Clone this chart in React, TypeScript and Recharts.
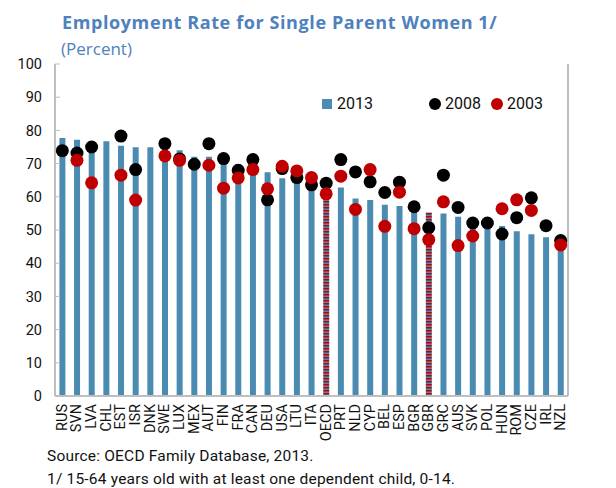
import { ComposedChart, Bar, Scatter, XAxis, YAxis, Cell, Legend } from 'recharts';

const countries = [
  'RUS', 'SVN', 'LVA', 'CHL', 'EST', 'ISR', 'DNK', 'SWE', 'LUX', 'MEX', 'AUT', 'FIN',
  'FRA', 'CAN', 'DEU', 'USA', 'LTU', 'ITA', 'OECD', 'PRT', 'NLD', 'CYP', 'BEL', 'ESP',
  'BGR', 'GBR', 'GRC', 'AUS', 'SVK', 'POL', 'HUN', 'ROM', 'CZE', 'IRL', 'NZL',
];
const rate2013 = [
  77.7, 77.2, 76.7, 76.7, 75.4, 74.9, 74.9, 74.4, 74.0, 72.1, 72.1, 71.0,
  69.8, 67.0, 67.4, 65.6, 65.0, 63.2, 61.2, 62.8, 59.5, 59.0, 57.6, 57.2,
  56.0, 55.3, 55.0, 54.0, 52.5, 51.5, 51.2, 49.6, 48.7, 47.8, 45.5,
];
const rate2008 = [
  73.9, 73.2, 75.0, null, 78.3, 68.2, null, 76.0, 71.4, 69.8, 76.0, 71.5,
  68.0, 71.2, 59.1, 68.5, 65.8, 63.6, 64.1, 71.2, 67.5, 64.5, 61.3, 64.4,
  57.0, 50.7, 66.5, 56.8, 52.1, 52.1, 48.8, 53.7, 59.7, 51.3, 46.8,
];
const rate2003 = [
  null, 71.0, 64.2, null, 66.5, 59.0, null, 72.3, 71.0, null, 69.5, 62.6,
  65.7, 68.2, 62.4, 69.2, 67.8, 65.8, 60.9, 66.2, 56.2, 68.2, 51.1, 61.4,
  50.4, 47.1, 58.5, 45.3, 48.2, null, 56.4, 59.1, 55.9, null, 45.5,
];
const highlighted = ['OECD', 'GBR'];
const yTicks = [0, 10, 20, 30, 40, 50, 60, 70, 80, 90, 100];

const data = countries.map((name, i) => ({
  name,
  y2013: rate2013[i],
  y2008: rate2008[i],
  y2003: rate2003[i],
}));

const BLUE = '#4b8bb1';
const RED = '#c00000';
const TITLE = '#4f81bd';
const FRAME = '#bfbfbf';
const FONT = 'Roboto, "Open Sans", sans-serif';
const TITLE_FONT = '"Open Sans", Roboto, sans-serif';

function CountryTick(props: any) {
  const { x, y, payload } = props;
  return (
    <text
      x={x}
      y={y}
      transform={`rotate(-90, ${x}, ${y})`}
      textAnchor="end"
      dominantBaseline="central"
      fontSize={14.5}
      fontFamily={FONT}
      fill="#111"
    >
      {payload.value}
    </text>
  );
}

function makeDot(color: string, key: string) {
  return (props: any) => {
    const { cx, cy, payload } = props;
    if (payload == null || payload[key] == null) return <g />;
    return <circle cx={cx} cy={cy} r={6.5} fill={color} />;
  };
}

function LegendBox() {
  const item = { display: 'flex', alignItems: 'center', marginRight: 10 } as const;
  return (
    <div style={{ display: 'flex', fontFamily: FONT, fontSize: 16, color: '#111' }}>
      <div style={{ ...item, marginRight: 56 }}>
        <span style={{ width: 10, height: 10, background: BLUE, marginRight: 5 }} />
        2013
      </div>
      <div style={item}>
        <span style={{ width: 12, height: 12, borderRadius: 6, background: '#000', marginRight: 4 }} />
        2008
      </div>
      <div style={item}>
        <span style={{ width: 12, height: 12, borderRadius: 6, background: RED, marginRight: 4 }} />
        2003
      </div>
    </div>
  );
}

export default function App() {
  return (
    <div style={{ position: 'absolute', top: 0, left: 0, width: 616, height: 488, background: '#fff', fontFamily: FONT }}>
      <div style={{ position: 'absolute', left: 62, top: 10, fontSize: 18, fontWeight: 700, color: TITLE, whiteSpace: 'nowrap', fontFamily: TITLE_FONT, letterSpacing: 0.6 }}>
        Employment Rate for Single Parent Women 1/
      </div>
      <div style={{ position: 'absolute', left: 61, top: 37, fontSize: 17, color: TITLE, fontFamily: TITLE_FONT }}>
        (Percent)
      </div>
      <ComposedChart
        width={616}
        height={488}
        data={data}
        margin={{ top: 64, right: 0, bottom: 47, left: 5 }}
        barCategoryGap="30%"
      >
        <defs>
          <pattern id="stripes" width="4" height="3" patternUnits="userSpaceOnUse">
            <rect x="0" y="0" width="4" height="3" fill={BLUE} />
            <rect x="0" y="0" width="4" height="1.5" fill={RED} />
          </pattern>
        </defs>
        <XAxis
          dataKey="name"
          interval={0}
          height={45}
          tick={<CountryTick />}
          tickLine={false}
          axisLine={{ stroke: FRAME, strokeWidth: 2 }}
        />
        <XAxis
          xAxisId="top"
          dataKey="name"
          orientation="top"
          height={0}
          tick={false}
          tickLine={false}
          axisLine={{ stroke: FRAME, strokeWidth: 2 }}
        />
        <YAxis
          yAxisId="left"
          domain={[0, 100]}
          ticks={yTicks}
          width={50}
          tickSize={-5}
          tickMargin={18}
          tickLine={{ stroke: FRAME }}
          axisLine={{ stroke: FRAME, strokeWidth: 2 }}
          tick={{ fontSize: 14.5, fill: '#111', fontFamily: FONT }}
        />
        <YAxis
          yAxisId="right"
          orientation="right"
          domain={[0, 100]}
          ticks={yTicks}
          width={48}
          tickSize={-5}
          tickMargin={22}
          tickLine={{ stroke: FRAME }}
          axisLine={{ stroke: FRAME, strokeWidth: 2 }}
          tick={{ fontSize: 14.5, fill: '#111', fontFamily: FONT, textAnchor: 'start' }}
        />
        <Legend
          layout="horizontal"
          verticalAlign="middle"
          align="center"
          content={<LegendBox />}
          wrapperStyle={{ top: 94, left: 322, width: 260 }}
        />
        <Bar yAxisId="left" dataKey="y2013" name="2013" isAnimationActive={false}>
          {data.map((d) => (
            <Cell key={d.name} fill={highlighted.includes(d.name) ? 'url(#stripes)' : BLUE} />
          ))}
        </Bar>
        <Scatter yAxisId="left" dataKey="y2008" name="2008" fill="#000" shape={makeDot('#000', 'y2008')} isAnimationActive={false} />
        <Scatter yAxisId="left" dataKey="y2003" name="2003" fill={RED} shape={makeDot(RED, 'y2003')} isAnimationActive={false} />
      </ComposedChart>
      <div style={{ position: 'absolute', left: 47, top: 447, fontSize: 15.5, color: '#111', whiteSpace: 'nowrap', letterSpacing: 0.2 }}>
        Source: OECD Family Database, 2013.
      </div>
      <div style={{ position: 'absolute', left: 47, top: 470, fontSize: 15.5, color: '#111', whiteSpace: 'nowrap', letterSpacing: 0.2 }}>
        1/ 15-64 years old with at least one dependent child, 0-14.
      </div>
    </div>
  );
}
